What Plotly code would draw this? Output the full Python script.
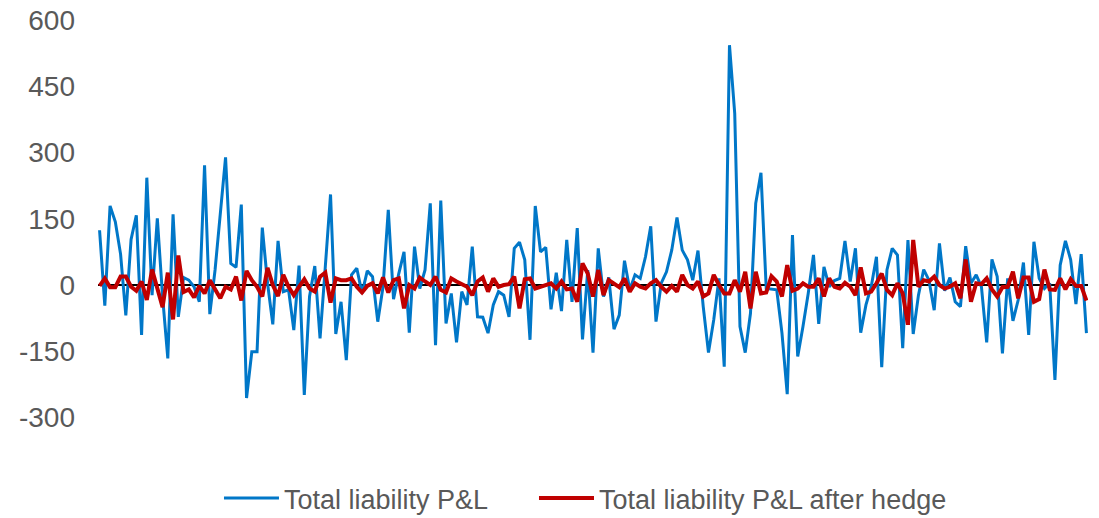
import plotly.graph_objects as go

# Total liability P&L (blue)
pnl = [124, -47, 179, 143, 70, -69, 103, 158, -113, 243, -23, 151, -26, -166, 160, -72, 17, 11, -4, -38, 271,
       -66, 34, 155, 289, 49, 40, 182, -256, -151, -151, 130, 4, -89, 100, -15, -11, -102, 44, -249, -26, 43,
       -121, 41, 205, -111, -38, -170, 23, 38, -19, 32, 19, -83, -4, 170, -32, 26, 75, -108, 87, -8, 34,
       185, -136, 191, -87, -19, -130, -15, -45, 87, -72, -73, -109, -45, -15, -23, -72, 83, 97, 57, -124, 179,
       75, 85, -55, 28, -59, 102, -38, 129, -123, 34, -153, 83, -26, 17, -100, -68, 55, -11, 23, 15,
       64, 133, -83, 4, 30, 79, 153, 79, 57, 11, 78, -49, -153, -79, 15, -185, 543, 388, -94, -153, -64, 185,
       254, -8, -10, -11, -109, -247, 113, -162, -94, -19, 68, -88, 41, -4, 10, 15, 100, 8, 83, -108,
       -45, -4, 64, -186, 34, 83, 68, -143, 102, -111, -23, 35, 11, -57, 94, -13, 17, -38, -49, 88, 4, 23,
       -4, -130, 58, 19, -155, 15, -81, -34, 51, -113, 98, 15, -8, 4, -215, 45, 100, 57, -43, 70, -109]

# Total liability P&L after hedge (red)
pnl_hedged = [-2, 15, -5, -5, 19, 19, -4, -13, 8, -34, 35, -11, -50, 28, -78, 67, -16, -10, -28, -2, -19,
              11, -10, -30, -4, -10, 19, -35, 32, 11, -4, -26, 39, 0, -25, 23, -4, -23, -4, 13, -8, -15,
              19, 28, -40, 15, 11, 11, 15, -4, -17, -2, 4, -19, 17, -17, 11, 15, -53, 0, -8, 17, 8,
              0, 19, -11, -17, 15, 8, 2, -4, -23, 8, 17, -15, 15, -4, 0, 2, 19, -53, 13, 15, -8,
              -4, -2, 4, -8, 8, -10, -8, -38, 49, 26, -26, 34, -23, 11, 4, -5, 15, -15, 4, -4,
              -8, 4, 11, -4, -15, -2, -15, 23, 0, -8, 8, -26, -19, 23, 0, -19, -19, 11, -15, 30, -53, 30,
              -19, -17, 20, 8, -26, 45, -13, -8, 4, -4, -4, 15, -26, 15, -4, -8, 5, -4, -23, 40,
              -19, -15, 4, 26, -11, -23, 4, -19, -90, 102, -4, 11, 8, 19, 0, -8, -4, 4, -30, 58, -38, 4,
              2, 15, -10, -26, -5, -4, 30, -30, 17, 17, -38, -32, 35, -10, -11, 15, -10, 13, -2, -2, -35]

periods = list(range(len(pnl)))
y_ticks = [-300, -150, 0, 150, 300, 450, 600]

fig = go.Figure()
fig.add_trace(go.Scatter(x=periods, y=pnl, mode="lines", name="Total liability P&L",
                         line=dict(color="#0077C8", width=3), legend="legend"))
fig.add_trace(go.Scatter(x=periods, y=pnl_hedged, mode="lines", name="Total liability P&L after hedge",
                         line=dict(color="#C00000", width=4), legend="legend2"))

leg_common = dict(orientation="h", xanchor="left", y=-0.01, yanchor="bottom",
                  bgcolor="rgba(0,0,0,0)", font=dict(size=27, color="#595959"), itemwidth=55)

fig.update_layout(
    width=1099, height=518,
    margin=dict(l=98, r=11, t=20, b=0, autoexpand=False),
    plot_bgcolor="white", paper_bgcolor="white",
    font=dict(family="Liberation Sans, Arial, sans-serif", size=27, color="#595959"),
    showlegend=True,
    legend=dict(x=0.1222, **leg_common),
    legend2=dict(x=0.4404, **leg_common),
    xaxis=dict(range=[-0.3, len(pnl) - 0.7], showgrid=False, showticklabels=False,
               zeroline=False, showline=False, ticks=""),
    yaxis=dict(range=[-527.5, 600], tickvals=y_ticks, ticktext=[str(v) for v in y_ticks],
               showgrid=False, zeroline=True, zerolinecolor="black", zerolinewidth=2,
               showline=False, ticks="", ticklabelstandoff=22, tickfont=dict(size=28)),
)

fig.write_html("out.html")
